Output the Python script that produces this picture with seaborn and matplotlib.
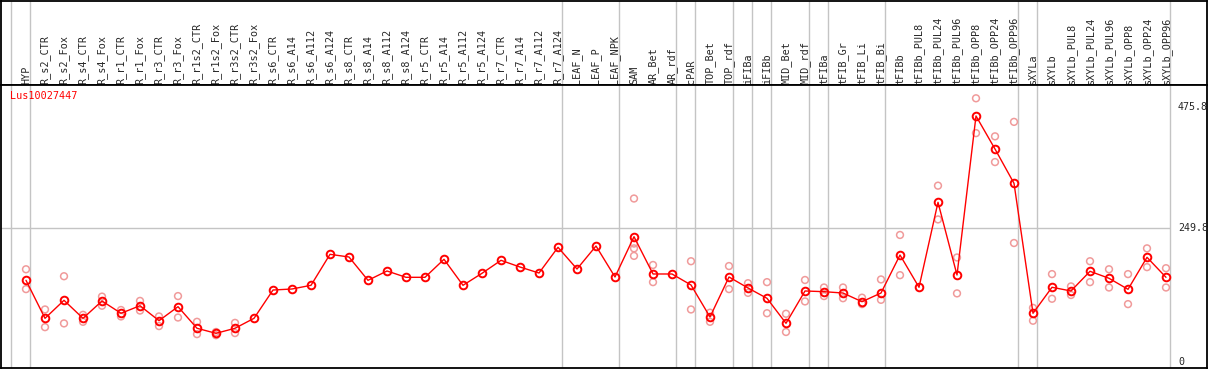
import numpy as np
import pandas as pd
import matplotlib
matplotlib.use('Agg')
import matplotlib.pyplot as plt
import seaborn as sns

# data
gene = 'Lus10027447'

groups = [
    ['HYP'],
    ['R_s2_CTR', 'R_s2_Fox', 'R_s4_CTR', 'R_s4_Fox', 'R_r1_CTR', 'R_r1_Fox', 'R_r3_CTR', 'R_r3_Fox',
     'R_r1s2_CTR', 'R_r1s2_Fox', 'R_r3s2_CTR', 'R_r3s2_Fox', 'R_s6_CTR', 'R_s6_A14', 'R_s6_A112',
     'R_s6_A124', 'R_s8_CTR', 'R_s8_A14', 'R_s8_A112', 'R_s8_A124', 'R_r5_CTR', 'R_r5_A14',
     'R_r5_A112', 'R_r5_A124', 'R_r7_CTR', 'R_r7_A14', 'R_r7_A112', 'R_r7_A124'],
    ['LEAF_N', 'LEAF_P', 'LEAF_NPK'],
    ['SAM', 'AR_Bet', 'AR_rdf'],
    ['cPAR'],
    ['TOP_Bet', 'TOP_rdf'],
    ['iFIBa'],
    ['iFIBb'],
    ['MID_Bet', 'MID_rdf'],
    ['tFIBa'],
    ['tFIB_Gr', 'tFIB_Li', 'tFIB_Bi'],
    ['tFIBb', 'tFIBb_PUL8', 'tFIBb_PUL24', 'tFIBb_PUL96', 'tFIBb_OPP8', 'tFIBb_OPP24', 'tFIBb_OPP96'],
    ['sXYLa'],
    ['sXYLb', 'sXYLb_PUL8', 'sXYLb_PUL24', 'sXYLb_PUL96', 'sXYLb_OPP8', 'sXYLb_OPP24', 'sXYLb_OPP96'],
]

means = [152.4, 81.5, 115.1, 81.5, 113.8, 90.9, 105.0, 77.1, 103.2, 62.9,
         53.5, 62.9, 81.5, 134.3, 136.2, 143.1, 200.9, 195.9, 152.4, 169.8,
         158.0, 158.0, 191.6, 143.1, 165.5, 189.7, 177.2, 166.0, 214.0, 173.5,
         216.4, 158.6, 233.8, 164.2, 164.2, 143.7, 84.0, 158.6, 138.1, 118.8,
         72.2, 132.5, 131.2, 128.7, 112.5, 128.7, 199.6, 139.4, 297.9, 162.3,
         459.0, 397.4, 333.4, 90.9, 139.4, 132.5, 169.2, 156.2, 135.6, 195.3,
         158.0]

# individual replicates per column (only those visible apart from the mean)
reps_hyp = [[173, 136]]
reps_root = [[98, 65], [160, 72], [88, 75], [122, 105], [97, 85], [114, 96], [85, 67],
             [123, 83], [75, 52], [56, 50], [73, 54], [],
             [], [], [], [], [], [], [], [], [], [], [], [], [], [], [], []]
reps_leaf = [[], [], []]
reps_stem = [[305, 221, 212, 198], [181, 149], [], [188, 98], [92, 75], [179, 136],
             [147, 129], [149, 91], [90, 56], [153, 113], [139, 123], [139, 119],
             [120, 108], [154, 116]]
reps_tfibb = [[237, 162], [], [329, 266], [195, 128], [492, 427], [421, 373], [448, 222]]
reps_sxyl = [[101, 77], [164, 118], [141, 125], [188, 149], [173, 139], [164, 108],
             [212, 177], [175, 139]]
reps = reps_hyp + reps_root + reps_leaf + reps_stem + reps_tfibb + reps_sxyl

y_ticks = [0, 249.8, 475.8]
y_tick_labels = ['0', '249.8', '475.8']

labels = [name for g in groups for name in g]
pos = np.arange(len(labels))
rep_df = pd.DataFrame([(i, v) for i, r in enumerate(reps) for v in r], columns=['pos', 'value'])
line_df = pd.DataFrame({'pos': pos, 'value': means})

# layout in pixels
W, H = 1209, 370
x0, step = 26, 19
def box(l, t, r, b):
    return [l / W, 1 - b / H, (r - l) / W, (b - t) / H]

sns.set_style('white')
plt.rcParams['font.family'] = ['DejaVu Sans Mono', 'DejaVu Sans']

fig = plt.figure(figsize=(W / 100, H / 100), dpi=100)
ax_lab = fig.add_axes(box(1, 1, 1207, 85))
ax = fig.add_axes(box(1, 85, 1207, 368))

xlim = ((1 - x0) / step, (1207 - x0) / step)
for a in (ax, ax_lab):
    a.set_xlim(xlim)
    a.set_xticks([])
    a.set_yticks([])
    for s in a.spines.values():
        s.set_color('black')
        s.set_linewidth(1.3)
ax.set_ylim(-11.2, 516.8)
ax_lab.set_ylim(84, 0)

# group separators
ends = np.cumsum([len(g) for g in groups]) - 1
bounds = [-0.77] + list(ends + 0.23)
for b in bounds:
    ax.axvline(b, color='#c4c4c4', lw=1, zorder=0)
    ax_lab.axvline(b, color='#c4c4c4', lw=1, zorder=0)
ax.hlines(y_ticks[1], xlim[0], bounds[-1], color='#c4c4c4', lw=1, zorder=0)

sns.scatterplot(data=rep_df, x='pos', y='value', ax=ax, marker='o', s=24,
                facecolors='none', color='#f09a9a', edgecolor='#f09a9a', linewidth=1.1,
                zorder=2, legend=False)
sns.lineplot(data=line_df, x='pos', y='value', ax=ax, color='red', lw=1, marker='o',
             markersize=5.5, markerfacecolor='none', markeredgecolor='red',
             markeredgewidth=1.4, zorder=3, legend=False)
ax.set_xlabel('')
ax.set_ylabel('')

for i, name in enumerate(labels):
    ax_lab.text(i, 82.5, name, rotation=90, ha='center', va='bottom', fontsize=7.3)

tick_x = (1178 - x0) / step
for v, t in zip(y_ticks, y_tick_labels):
    ax.text(tick_x, v, t, ha='left', va='center', fontsize=7.2)

ax.text(9 / 1206, (368 - 96) / 283, gene, transform=ax.transAxes, color='red',
        ha='left', va='center', fontsize=7.3)

fig.savefig('out.png', dpi=100)
